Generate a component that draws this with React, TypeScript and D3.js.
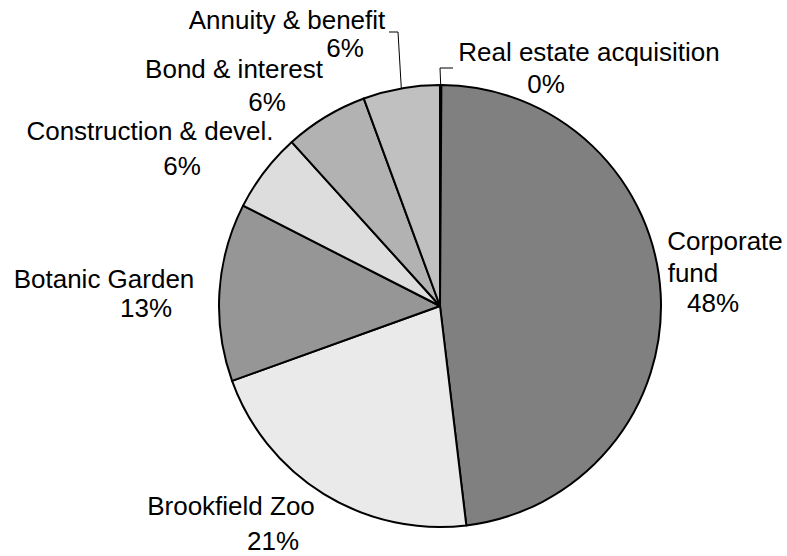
import React from 'react';
import * as d3 from 'd3';

const categories = [
  'Real estate acquisition',
  'Corporate fund',
  'Brookfield Zoo',
  'Botanic Garden',
  'Construction & devel.',
  'Bond & interest',
  'Annuity & benefit',
];
const shares = [0.1, 48.0, 21.4, 13.0, 5.8, 6.1, 5.6];
const fills = ['#ffffff', '#808080', '#eaeaea', '#969696', '#dddddd', '#b2b2b2', '#c0c0c0'];

// label lines: [text, centerX, baselineY]; the "%" line is filled from the data
const labelLines: [string[], number[], number[]][] = [
  [[categories[0], '%'], [589, 546], [61, 93]],
  [['Corporate', 'fund', '%'], [725, 693, 713], [250, 282, 312]],
  [[categories[2], '%'], [231, 273], [515, 550]],
  [[categories[3], '%'], [104, 146], [288, 317]],
  [[categories[4], '%'], [150, 182], [140, 175]],
  [[categories[5], '%'], [234, 267], [78, 111]],
  [[categories[6], '%'], [287, 345], [29, 57]],
];
// leader elbows (only for the slices whose label sits away from the pie)
const leaders: Record<number, [number, number][]> = {
  0: [[440, 68], [453, 68]],
  6: [[398, 32], [389, 32]],
};

const W = 787;
const H = 556;
const cx = 440;
const cy = 306;
const R = 221;

export default function App() {
  const total = d3.sum(shares);
  const pie = d3.pie<number>().sort(null).startAngle(0).endAngle(Math.PI * 2);
  const arcs = pie(shares);
  const arc = d3.arc<d3.PieArcDatum<number>>().innerRadius(0).outerRadius(R);

  return (
    <svg width={W} height={H} style={{ position: 'absolute', left: 0, top: 0, background: '#fff' }}
      fontFamily="'Liberation Sans', Arial, sans-serif" fontSize={26}>
      <g transform={`translate(${cx},${cy})`}>
        {arcs.map((a, i) => (
          <path key={i} d={arc(a) || ''} fill={fills[i]} stroke="#000" strokeWidth={2} strokeLinejoin="round" />
        ))}
      </g>
      {arcs.map((a, i) => {
        const elbow = leaders[i];
        if (!elbow) return null;
        const mid = (a.startAngle + a.endAngle) / 2;
        const start: [number, number] = [cx + R * Math.sin(mid), cy - R * Math.cos(mid)];
        const line = d3.line()([start, ...elbow]);
        return <path key={'l' + i} d={line || ''} fill="none" stroke="#000" strokeWidth={1} />;
      })}
      {labelLines.map(([texts, xs, ys], i) => (
        <g key={'t' + i}>
          {texts.map((t, j) => (
            <text key={j} x={xs[j]} y={ys[j]} textAnchor="middle" fill="#000">
              {t === '%' ? `${Math.round((shares[i] / total) * 100)}%` : t}
            </text>
          ))}
        </g>
      ))}
    </svg>
  );
}
